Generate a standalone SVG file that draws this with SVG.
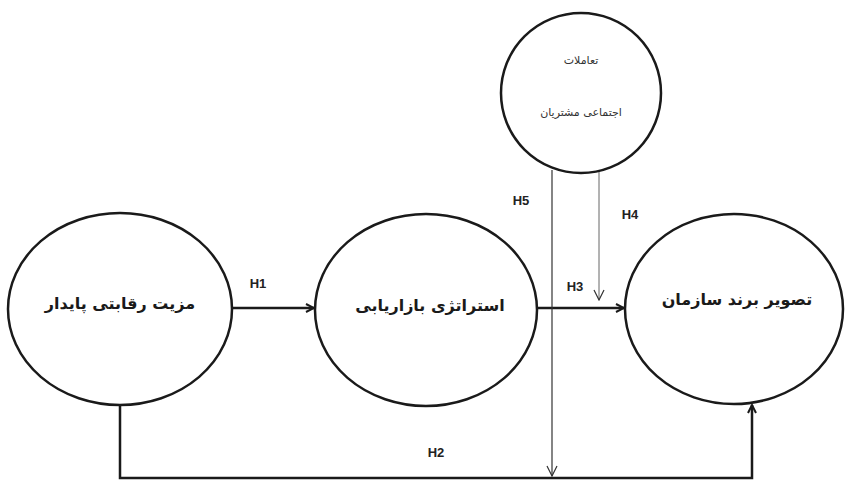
<svg xmlns="http://www.w3.org/2000/svg" width="846" height="487" viewBox="0 0 846 487">
<style>
.node{fill:#fff;stroke:#1a1a1a;stroke-width:2.5}
.t{font-family:"DejaVu Sans",sans-serif;font-weight:bold;font-size:16px;fill:#1a1a1a;text-anchor:middle}
.ts{font-family:"DejaVu Sans",sans-serif;font-size:11px;fill:#333;text-anchor:middle}
.lab{font-family:"Liberation Sans",Arial,sans-serif;font-weight:bold;font-size:13px;fill:#222;text-anchor:middle}
.thick{stroke:#1a1a1a;stroke-width:2.5;fill:none}
.thin{stroke:#333;stroke-width:1.2;fill:none}
.thinner{stroke:#666;stroke-width:1;fill:none}
</style>
<defs>
<marker id="ah" markerWidth="10" markerHeight="10" refX="9" refY="5" orient="auto" markerUnits="userSpaceOnUse"><path d="M1,1 L9,5 L1,9" fill="none" stroke="#1a1a1a" stroke-width="2"/></marker>
<marker id="ah2" markerWidth="12" markerHeight="12" refX="11" refY="6" orient="auto" markerUnits="userSpaceOnUse"><path d="M1,1 L11,6 L1,11" fill="none" stroke="#333" stroke-width="1.2"/></marker>
</defs>
<rect width="846" height="487" fill="#fff"/>
<g id="connectors">
<line class="thick" x1="233" y1="308" x2="314" y2="308" marker-end="url(#ah)"/>
<line class="thick" x1="538" y1="308" x2="624" y2="308" marker-end="url(#ah)"/>
<polyline class="thick" points="120,405 120,478 752,478 752,405" marker-end="url(#ah)"/>
<line class="thin" x1="552" y1="170" x2="552" y2="476" marker-end="url(#ah2)"/>
<line class="thinner" x1="599" y1="168" x2="599" y2="300" marker-end="url(#ah2)"/>
<text class="lab" x="258" y="288">H1</text>
<text class="lab" x="436" y="457">H2</text>
<text class="lab" x="575" y="291">H3</text>
<text class="lab" x="630" y="219">H4</text>
<text class="lab" x="521" y="205">H5</text>
</g>
<g id="node-top">
<ellipse class="node" cx="581" cy="93" rx="80" ry="80"/>
<text class="ts" x="581" y="64">تعاملات</text>
<text class="ts" x="581" y="116">اجتماعی مشتریان</text>
</g>
<g id="node-left">
<ellipse class="node" cx="120" cy="309" rx="112" ry="96"/>
<text class="t" x="120" y="309">مزیت رقابتی پایدار</text>
</g>
<g id="node-mid">
<ellipse class="node" cx="426" cy="310" rx="111" ry="96"/>
<text class="t" x="430" y="311">استراتژی بازاریابی</text>
</g>
<g id="node-right">
<ellipse class="node" cx="734" cy="309" rx="109" ry="95"/>
<text class="t" x="737" y="305">تصویر برند سازمان</text>
</g>
</svg>
